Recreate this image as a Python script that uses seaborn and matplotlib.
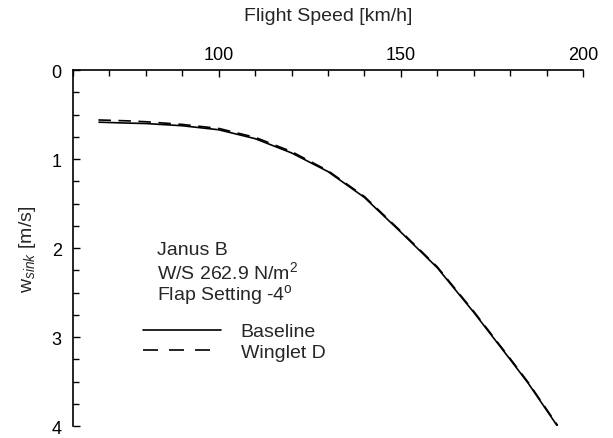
import pandas as pd
import matplotlib
matplotlib.use("Agg")
import matplotlib.pyplot as plt
from matplotlib.ticker import MultipleLocator, FixedLocator
from matplotlib.lines import Line2D
import seaborn as sns

# Polar curve values
speed_base = [67, 75, 80, 90, 100, 110, 120, 130, 140, 150, 160, 170, 180, 185, 193]
sink_base = [0.585, 0.595, 0.60, 0.625, 0.67, 0.77, 0.93, 1.14, 1.43, 1.82, 2.22, 2.72, 3.25, 3.52, 4.00]

speed_wing = [67, 75, 80, 90, 100, 110, 120, 130, 140, 150, 160, 170, 180, 185, 193]
sink_wing = [0.56, 0.57, 0.58, 0.61, 0.655, 0.755, 0.915, 1.13, 1.42, 1.81, 2.21, 2.71, 3.24, 3.51, 3.99]

series_names = ["Baseline", "Winglet D"]
info_lines = ["Janus B", "W/S 262.9 N/m$^2$", r"Flap Setting -4$^\mathrm{o}$"]

df = pd.concat([
    pd.DataFrame({"speed": speed_base, "sink": sink_base, "config": series_names[0]}),
    pd.DataFrame({"speed": speed_wing, "sink": sink_wing, "config": series_names[1]}),
])

sns.set_style("ticks")
plt.rcParams["font.family"] = ["Liberation Sans", "DejaVu Sans"]
plt.rcParams["mathtext.fontset"] = "custom"
plt.rcParams["mathtext.rm"] = "Liberation Sans"
plt.rcParams["mathtext.it"] = "Liberation Sans:italic"

fig = plt.figure(figsize=(6.13, 4.39), dpi=100)
ax = fig.add_axes([0.119, 0.027, 0.832, 0.811])

sns.lineplot(data=df, x="speed", y="sink", hue="config", style="config",
             palette=["black", "black"], dashes=[(1, 0), (7.5, 4.5)],
             linewidth=1.2, sort=False, legend=False, ax=ax)

ax.set_xlim(60, 200)
ax.set_ylim(4, 0)
ax.xaxis.tick_top()
ax.xaxis.set_label_position("top")
ax.xaxis.set_major_locator(FixedLocator([100, 150, 200]))
ax.xaxis.set_minor_locator(MultipleLocator(10))
ax.yaxis.set_major_locator(MultipleLocator(1))
ax.yaxis.set_minor_locator(MultipleLocator(0.25))
ax.tick_params(which="both", direction="in", width=1, colors="black", labelsize=13, pad=8)
ax.tick_params(which="major", length=5)
ax.tick_params(which="minor", length=4)
ax.tick_params(axis="x", which="both", top=True, bottom=False, pad=5)

for side in ["right", "bottom"]:
    ax.spines[side].set_visible(False)
for side in ["top", "left"]:
    ax.spines[side].set_linewidth(1.2)
    ax.spines[side].set_color("black")

ax.set_xlabel("Flight Speed [km/h]", fontsize=14, labelpad=19)
ax.set_ylabel("w$_{sink}$ [m/s]", fontsize=14, labelpad=10)

info_y = [0.483, 0.416, 0.357]
for line, y in zip(info_lines, info_y):
    ax.text(0.165, y, line, transform=ax.transAxes,
            fontsize=14, va="baseline", ha="left")

handles = [Line2D([], [], color="black", lw=1.2),
           Line2D([], [], color="black", lw=1.2, dashes=(9, 6.6))]
ax.legend(handles, series_names, loc="center left", bbox_to_anchor=(0.103, 0.237),
          frameon=False, fontsize=14, handlelength=4.0, handletextpad=1.03,
          labelspacing=0.15)

fig.savefig("out.png", dpi=100)
